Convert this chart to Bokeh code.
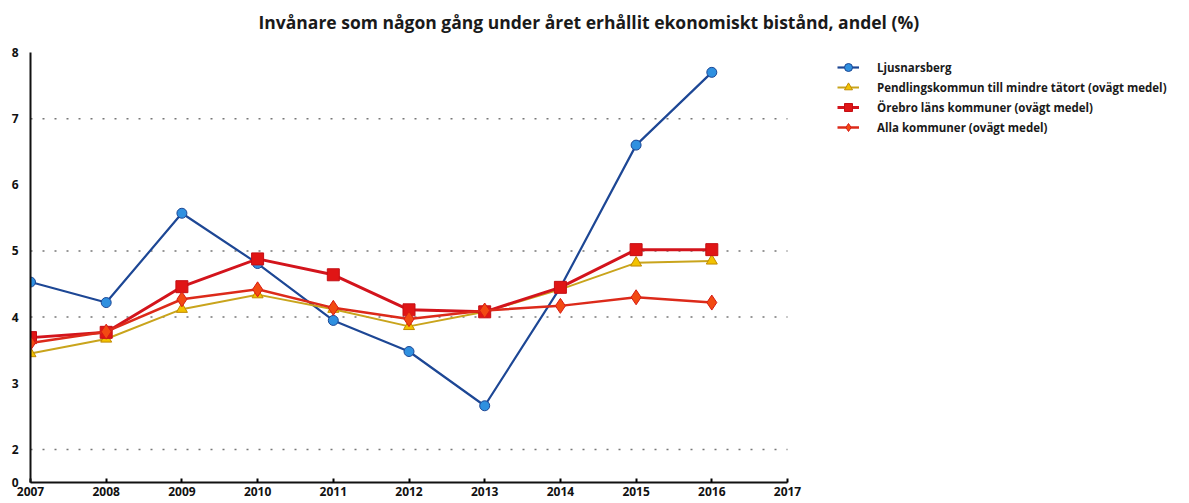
from bokeh.plotting import figure
from bokeh.models import Legend, LegendItem, FixedTicker, Range1d, Label
from bokeh.embed import file_html
from bokeh.resources import INLINE

years = [2007, 2008, 2009, 2010, 2011, 2012, 2013, 2014, 2015, 2016]
ljusnarsberg = [4.53, 4.22, 5.57, 4.81, 3.95, 3.48, 2.66, 4.45, 6.60, 7.70]
pendling = [3.45, 3.67, 4.12, 4.34, 4.12, 3.86, 4.08, 4.42, 4.82, 4.85]
orebro = [3.69, 3.77, 4.46, 4.88, 4.64, 4.11, 4.08, 4.45, 5.02, 5.02]
alla = [3.61, 3.78, 4.27, 4.42, 4.14, 3.97, 4.10, 4.17, 4.30, 4.22]

x_ticks = [2007, 2008, 2009, 2010, 2011, 2012, 2013, 2014, 2015, 2016, 2017]
y_ticks = [1.5, 2, 3, 4, 5, 6, 7, 8]
y_labels = {1.5: "0"}
grid_values = [2, 4, 5, 7]

title_text = "Invånare som någon gång under året erhållit ekonomiskt bistånd, andel (%)"
names = ["Ljusnarsberg",
         "Pendlingskommun till mindre tätort (ovägt medel)",
         "Örebro läns kommuner (ovägt medel)",
         "Alla kommuner (ovägt medel)"]

FONT = "Open Sans"
FRAME_W = 1140
AXIS_SPAN_PX = 757   # pixel width of the 2007-2017 axis span
AXIS_H_PX = 430      # pixel height of the 0(1.5)-8 axis span
TOP_PAD_PX = 40      # extra room inside the frame for the title
x_start = x_ticks[0]
x_end = x_start + (x_ticks[-1] - x_ticks[0]) * FRAME_W / AXIS_SPAN_PX
y_start, y_top = y_ticks[0], y_ticks[-1]
y_end = y_top + (y_top - y_start) * TOP_PAD_PX / AXIS_H_PX
FRAME_H = AXIS_H_PX + TOP_PAD_PX

p = figure(frame_width=FRAME_W, frame_height=FRAME_H,
           x_range=Range1d(x_start, x_end), y_range=Range1d(y_start, y_end),
           output_backend="svg", toolbar_location=None,
           min_border_left=30, min_border_top=12, min_border_bottom=21,
           min_border_right=0)
p.outline_line_color = None
p.background_fill_color = "white"

title = Label(x=228, y=FRAME_H - 9, x_units="screen", y_units="screen",
              text=title_text, text_font=FONT, text_font_size="17.5px",
              text_font_style="bold", text_color="#1a1a1a",
              text_align="left", text_baseline="middle")
p.add_layout(title)

# axes
p.xaxis.ticker = FixedTicker(ticks=x_ticks)
p.xaxis.bounds = (x_ticks[0], x_ticks[-1])
p.xaxis.axis_line_width = 2
p.xaxis.axis_line_color = "#111111"
p.xaxis.major_tick_in = 4
p.xaxis.major_tick_out = 0
p.xaxis.major_tick_line_width = 2
p.xaxis.minor_tick_line_color = None
p.xaxis.major_label_standoff = 4
p.xaxis.major_label_text_font = FONT
p.xaxis.major_label_text_font_style = "bold"
p.xaxis.major_label_text_font_size = "12px"
p.xaxis.major_label_text_color = "#111111"

p.yaxis.ticker = FixedTicker(ticks=y_ticks)
p.yaxis.bounds = (y_start, y_top)
p.yaxis.major_label_overrides = y_labels
p.yaxis.axis_line_width = 2
p.yaxis.axis_line_color = "#111111"
p.yaxis.major_tick_in = 0
p.yaxis.major_tick_out = 0
p.yaxis.minor_tick_line_color = None
p.yaxis.major_label_standoff = 12
p.yaxis.major_label_text_font = FONT
p.yaxis.major_label_text_font_style = "bold"
p.yaxis.major_label_text_font_size = "12px"
p.yaxis.major_label_text_color = "#111111"

p.xgrid.grid_line_color = None
p.ygrid.grid_line_color = None

# dotted horizontal guide lines across the 2007-2017 span
p.segment(x0=[x_ticks[0]] * len(grid_values), x1=[x_ticks[-1]] * len(grid_values),
          y0=grid_values, y1=grid_values,
          line_color="#777777", line_width=1.5, line_dash="2 10")

# series
r1l = p.line(years, ljusnarsberg, line_color="#1d4795", line_width=2.2)
r1m = p.scatter(years, ljusnarsberg, marker="circle", size=10,
                fill_color="#2f90e0", line_color="#1d4795", line_width=1)

r2l = p.line(years, pendling, line_color="#c9a41c", line_width=2)
r2m = p.scatter(years, pendling, marker="triangle", size=11,
                fill_color="#f2c200", line_color="#c08a00", line_width=1)

r3l = p.line(years, orebro, line_color="#d3141c", line_width=3)
r3m = p.scatter(years, orebro, marker="square", size=12,
                fill_color="#e01515", line_color="#c40f15", line_width=1)

r4l = p.line(years, alla, line_color="#dc2a1a", line_width=2.5)
r4m = p.scatter(years, alla, marker="diamond", size=15,
                fill_color="#f24a12", line_color="#d81a14", line_width=1)

legend = Legend(items=[
    LegendItem(label=names[0], renderers=[r1l, r1m]),
    LegendItem(label=names[1], renderers=[r2l, r2m]),
    LegendItem(label=names[2], renderers=[r3l, r3m]),
    LegendItem(label=names[3], renderers=[r4l, r4m]),
], location=(807, 345))
legend.border_line_color = None
legend.background_fill_alpha = 0
legend.padding = 0
legend.margin = 0
legend.spacing = 0
legend.glyph_width = 22
legend.glyph_height = 20
legend.label_height = 20
legend.label_standoff = 18
legend.label_text_font = FONT
legend.label_text_font_style = "bold"
legend.label_text_font_size = "11.5px"
legend.label_text_color = "#1a1a1a"
p.add_layout(legend, "center")

open("out.html", "w").write(file_html(p, INLINE))
